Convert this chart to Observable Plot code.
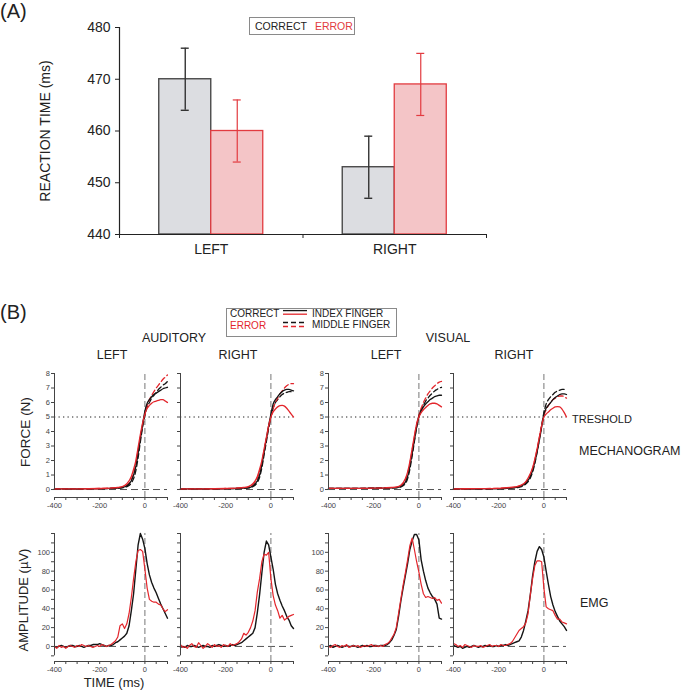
<!DOCTYPE html>
<html><head><meta charset="utf-8">
<script src="https://cdn.jsdelivr.net/npm/d3@7"></script>
<script src="https://cdn.jsdelivr.net/npm/@observablehq/plot@0.6"></script>
<style>
body{margin:0;background:#fff;font-family:"Liberation Sans",Arial,sans-serif;}
#root{position:relative;width:685px;height:690px;overflow:hidden;background:#fff;}
.t{position:absolute;white-space:nowrap;color:#222;line-height:1;}
.abs{position:absolute;}
.abs svg{overflow:visible;}
</style></head><body><div id="root"></div>
<script>
// ---------- Panel A data ----------
const rtSides = ["LEFT", "RIGHT"];
const rtConds = ["CORRECT", "ERROR"];
const rtCorrect = [470, 453];
const rtError = [460, 469];
const rtCorrectSE = [6, 6];
const rtErrorSE = [6, 6];
const rtTicks = [440, 450, 460, 470, 480];

// ---------- Panel B: mechanogram (force, N) ----------
const forceTime = [-400,-300,-200,-150,-120,-100,-80,-60,-50,-40,-30,-20,-10,0,10,20,30,40,50,60,70,80,90,100];
const audLeftCorrectIndex  = [0.05,0.05,0.06,0.08,0.1,0.15,0.25,0.6,1.0,1.6,2.5,3.5,4.5,5.4,5.95,6.2,6.4,6.55,6.65,6.75,6.85,6.95,7.0,7.05];
const audLeftCorrectMiddle = [0.05,0.05,0.06,0.07,0.09,0.12,0.2,0.45,0.75,1.3,2.2,3.3,4.3,5.1,5.7,6.0,6.3,6.5,6.7,6.9,7.05,7.2,7.3,7.45];
const audLeftErrorIndex    = [0.05,0.05,0.07,0.1,0.14,0.2,0.4,0.9,1.4,2.0,2.9,3.8,4.6,5.2,5.6,5.8,5.95,6.05,6.1,6.15,6.2,6.2,6.1,6.0];
const audLeftErrorMiddle   = [0.05,0.05,0.07,0.1,0.13,0.18,0.3,0.7,1.1,1.8,2.7,3.6,4.5,5.2,5.8,6.2,6.5,6.75,7.0,7.2,7.4,7.6,7.75,7.9];
const audRightCorrectIndex  = [0.05,0.05,0.06,0.07,0.09,0.12,0.25,0.6,1.0,1.7,2.6,3.5,4.4,5.2,5.9,6.2,6.4,6.6,6.75,6.85,6.9,6.9,6.85,6.8];
const audRightCorrectMiddle = [0.05,0.05,0.06,0.07,0.09,0.11,0.2,0.5,0.85,1.5,2.4,3.3,4.2,5.0,5.6,6.0,6.2,6.4,6.55,6.65,6.7,6.75,6.75,6.75];
const audRightErrorIndex    = [0.05,0.05,0.07,0.1,0.14,0.2,0.4,0.9,1.4,2.0,2.8,3.6,4.4,5.0,5.35,5.55,5.7,5.78,5.8,5.75,5.6,5.4,5.2,5.0];
const audRightErrorMiddle   = [0.05,0.05,0.07,0.09,0.12,0.17,0.33,0.8,1.25,1.85,2.7,3.5,4.3,5.0,5.6,6.0,6.3,6.6,6.8,7.0,7.15,7.25,7.3,7.3];
const visLeftCorrectIndex  = [0.08,0.08,0.09,0.1,0.11,0.13,0.2,0.5,0.9,1.6,2.5,3.4,4.3,5.0,5.4,5.7,5.9,6.05,6.2,6.3,6.4,6.45,6.5,6.5];
const visLeftCorrectMiddle = [0.08,0.08,0.09,0.1,0.11,0.12,0.18,0.4,0.75,1.4,2.3,3.3,4.3,5.1,5.5,5.8,6.1,6.3,6.5,6.65,6.8,6.9,7.0,7.05];
const visLeftErrorIndex    = [0.08,0.08,0.1,0.12,0.14,0.17,0.3,0.75,1.2,1.9,2.8,3.7,4.5,5.0,5.3,5.5,5.65,5.8,5.9,5.95,5.95,5.9,5.8,5.7];
const visLeftErrorMiddle   = [0.08,0.08,0.1,0.11,0.13,0.16,0.27,0.65,1.1,1.8,2.7,3.6,4.5,5.1,5.6,6.0,6.3,6.6,6.8,7.0,7.15,7.3,7.4,7.45];
const visRightCorrectIndex  = [0.05,0.05,0.06,0.1,0.15,0.25,0.45,0.9,1.3,1.9,2.6,3.4,4.3,5.2,5.6,5.8,6.0,6.2,6.35,6.45,6.55,6.6,6.6,6.55];
const visRightCorrectMiddle = [0.05,0.05,0.06,0.09,0.13,0.2,0.38,0.8,1.2,1.8,2.6,3.5,4.4,5.3,5.9,6.2,6.4,6.55,6.7,6.8,6.85,6.9,6.9,6.9];
const visRightErrorIndex    = [0.05,0.06,0.08,0.14,0.2,0.3,0.55,1.1,1.5,2.1,2.8,3.6,4.4,5.0,5.2,5.35,5.5,5.6,5.7,5.72,5.7,5.55,5.3,5.0];
const visRightErrorMiddle   = [0.05,0.06,0.08,0.13,0.18,0.27,0.5,1.0,1.45,2.05,2.8,3.6,4.4,5.1,5.5,5.8,6.0,6.2,6.3,6.4,6.45,6.45,6.4,6.3];
const forceTicksX = [-400,-350,-300,-250,-200,-150,-100,-50,0,50,100];
const forceTicksY = [0,1,2,3,4,5,6,7,8];
const forceThreshold = 5;

// ---------- Panel B: EMG (µV) ----------
const emgTime = [-400,-390,-380,-370,-360,-350,-340,-330,-320,-310,-300,-290,-280,-270,-260,-250,-240,-230,-220,-210,-200,-190,-180,-170,-160,-150,-140,-130,-120,-110,-100,-90,-80,-70,-60,-50,-40,-30,-20,-10,0,10,20,30,40,50,60,70,80,90,100];
const audLeftEmgCorrect  = [0,-1,0,1,0,-1,0,1,1,0,0,1,0,-1,0,1,1,2,2,2,3,2,1,0,1,1,2,4,5,7,9,11,14,22,38,56,82,108,120,114,104,88,76,68,62,57,51,45,40,35,30];
const audLeftEmgError    = [0,-2,1,-1,0,-2,0,1,0,-1,1,0,2,1,0,1,0,-1,0,1,0,2,1,0,1,2,4,6,10,22,24,19,24,35,52,72,90,102,103,101,82,62,50,48,47,47,45,44,40,37,39];
const audRightEmgCorrect = [-1,0,-1,1,0,0,1,0,-1,0,1,0,0,-1,1,0,1,2,1,0,1,0,1,2,1,2,3,4,6,8,10,12,14,20,36,55,78,100,112,108,95,82,66,56,49,43,38,32,28,22,19];
const audRightEmgError   = [2,-1,0,-2,1,3,0,-1,4,1,-2,0,3,1,-1,2,0,1,-1,2,1,0,3,1,2,3,5,8,14,12,15,20,27,38,58,72,90,98,97,100,72,54,44,38,30,33,28,30,32,33,34];
const visLeftEmgCorrect  = [0,1,-1,0,1,0,-1,0,1,0,0,1,0,-1,0,1,0,1,0,0,1,1,0,1,1,1,2,4,7,12,18,32,48,62,75,88,103,112,119,119,113,92,80,70,62,57,53,50,45,30,29];
const visLeftEmgError    = [0,-1,1,2,0,-1,1,0,2,-1,0,1,0,1,-1,0,1,0,1,2,0,1,0,1,0,2,3,5,9,13,20,35,50,65,78,92,107,115,103,90,79,66,56,52,53,52,51,52,49,50,46];
const visRightEmgCorrect = [1,0,-1,0,-2,-1,0,-1,0,1,0,-1,0,0,1,0,1,0,0,1,0,1,1,2,1,2,3,4,5,6,10,17,27,38,55,75,90,101,106,103,95,80,66,53,44,37,32,27,24,21,17];
const visRightEmgError   = [3,2,0,1,-1,2,1,0,-1,1,0,0,1,-1,0,1,2,0,1,1,0,2,1,1,2,3,5,9,13,17,19,21,25,35,55,72,86,91,91,90,62,42,40,39,38,33,29,29,26,25,24];
const emgTicksY = [-10,0,10,20,30,40,50,60,70,80,90,100,110,120];
const emgLabelsY = [0,20,40,60,80,100];
const labelledX = [-400,-200,0];

// ---------- helpers ----------
const FONT = '"Liberation Sans", Arial, sans-serif';
const BLACK = "#151515", RED = "#e3262c";
const root = document.getElementById("root");

function place(el, left, top) {
  const d = document.createElement("div");
  d.className = "abs";
  d.style.left = left + "px";
  d.style.top = top + "px";
  d.appendChild(el);
  root.appendChild(d);
  return d;
}
function text(s, x, y, {size = 12, color = "#222", anchor = "middle"} = {}) {
  const d = document.createElement("div");
  d.className = "t";
  d.textContent = s;
  d.style.fontSize = size + "px";
  d.style.color = color;
  d.style.left = x + "px";
  d.style.top = y + "px";
  const tx = anchor === "middle" ? "-50%" : anchor === "end" ? "-100%" : "0";
  d.style.transform = `translate(${tx},-50%)`;
  root.appendChild(d);
  return d;
}
function rotText(s, cx, cy, size) {
  const d = document.createElement("div");
  d.className = "t";
  d.textContent = s;
  d.style.fontSize = size + "px";
  d.style.left = cx + "px";
  d.style.top = cy + "px";
  d.style.transform = "translate(-50%,-50%) rotate(-90deg)";
  root.appendChild(d);
}

// ---------- Panel A ----------
const rtData = rtSides.flatMap((s, i) => [
  {side: s, idx: i, cond: rtConds[0], v: rtCorrect[i], se: rtCorrectSE[i]},
  {side: s, idx: i, cond: rtConds[1], v: rtError[i], se: rtErrorSE[i]}
]);
const barW = 0.2834;
const bx1 = d => d.idx + 0.5 - (d.cond === "CORRECT" ? barW : 0);
const bx2 = d => bx1(d) + barW;
const bxc = d => bx1(d) + barW / 2;
const corr = rtData.filter(d => d.cond === "CORRECT");
const err = rtData.filter(d => d.cond === "ERROR");
const yMin = rtTicks[0], yMax = rtTicks[rtTicks.length - 1];

const plotA = Plot.plot({
  width: 500, height: 262,
  marginLeft: 119, marginRight: 14, marginTop: 27, marginBottom: 28,
  style: {fontFamily: FONT, fontSize: "14px", color: "#222", background: "transparent", overflow: "visible"},
  x: {domain: [0, rtSides.length]},
  y: {domain: [yMin, yMax]},
  marks: [
    Plot.rectY(corr, {x1: bx1, x2: bx2, y1: yMin, y2: "v", fill: "#dcdde1", stroke: "#4a4a4a", strokeWidth: 1.4}),
    Plot.rectY(err, {x1: bx1, x2: bx2, y1: yMin, y2: "v", fill: "#f4c5c7", stroke: "#e23b40", strokeWidth: 1.3}),
    Plot.ruleX(corr, {x: bxc, y1: d => d.v - d.se, y2: d => d.v + d.se, stroke: "#333", strokeWidth: 1.4}),
    Plot.ruleX(err, {x: bxc, y1: d => d.v - d.se, y2: d => d.v + d.se, stroke: "#e23b40", strokeWidth: 1.2}),
    Plot.ruleY(corr, {x1: bxc, x2: bxc, y: d => d.v - d.se, insetLeft: -4, insetRight: -4, stroke: "#333", strokeWidth: 1.4}),
    Plot.ruleY(corr, {x1: bxc, x2: bxc, y: d => d.v + d.se, insetLeft: -4, insetRight: -4, stroke: "#333", strokeWidth: 1.4}),
    Plot.ruleY(err, {x1: bxc, x2: bxc, y: d => d.v - d.se, insetLeft: -4, insetRight: -4, stroke: "#e23b40", strokeWidth: 1.2}),
    Plot.ruleY(err, {x1: bxc, x2: bxc, y: d => d.v + d.se, insetLeft: -4, insetRight: -4, stroke: "#e23b40", strokeWidth: 1.2}),
    Plot.ruleY([yMin], {stroke: "#222", strokeWidth: 1.2}),
    Plot.ruleX([0], {y1: yMin, y2: yMax, stroke: "#222", strokeWidth: 1.2}),
    Plot.axisY({ticks: rtTicks, tickSize: 4, tickPadding: 5, label: null, tickFormat: d => String(d)}),
    Plot.axisX({ticks: d3.range(0, rtSides.length + 1), tickSize: 4, tickFormat: () => "", label: null}),
    Plot.axisX({ticks: rtSides.map((s, i) => i + 0.5), tickSize: 0, tickPadding: 10, tickFormat: d => rtSides[Math.floor(d)], label: null})
  ]
});
place(plotA, 0, 0);
text("(A)", 0, 11, {size: 20, anchor: "start"});
rotText("REACTION TIME (ms)", 45, 131, 14);

// legend A
{
  const lg = document.createElement("div");
  lg.style.cssText = "position:absolute;left:249px;top:17px;width:106px;height:18px;border:1px solid #8a8a8a;font-size:10.5px;line-height:16px;box-sizing:border-box;padding-left:5px;white-space:nowrap;color:#222";
  lg.innerHTML = '<span>CORRECT</span><span style="color:#e23b40;margin-left:8px">ERROR</span>';
  root.appendChild(lg);
}

// ---------- Panel B ----------
const panelX = [54, 180, 328, 453];   // left edges of the four plot frames
const PW = 113;
const forceSets = [
  [audLeftCorrectIndex, audLeftCorrectMiddle, audLeftErrorIndex, audLeftErrorMiddle],
  [audRightCorrectIndex, audRightCorrectMiddle, audRightErrorIndex, audRightErrorMiddle],
  [visLeftCorrectIndex, visLeftCorrectMiddle, visLeftErrorIndex, visLeftErrorMiddle],
  [visRightCorrectIndex, visRightCorrectMiddle, visRightErrorIndex, visRightErrorMiddle]
];
const emgSets = [
  [audLeftEmgCorrect, audLeftEmgError],
  [audRightEmgCorrect, audRightEmgError],
  [visLeftEmgCorrect, visLeftEmgError],
  [visRightEmgCorrect, visRightEmgError]
];
const series = (time, vals) => time.map((t, i) => ({t, v: vals[i]}));
const smallStyle = {fontFamily: FONT, fontSize: "7.5px", color: "#444", background: "transparent", overflow: "visible"};
const xFmt = d => labelledX.includes(d) ? String(d) : "";

function forcePanel(sets, showY) {
  const [ci, cm, ei, em] = sets.map(a => series(forceTime, a));
  return Plot.plot({
    width: 22 + PW + 6, height: 6 + 124 + 20,
    marginLeft: 22, marginRight: 6, marginTop: 6, marginBottom: 20,
    style: smallStyle,
    x: {domain: [forceTime[0], forceTime[forceTime.length - 1]]},
    y: {domain: [-0.55, forceTicksY[forceTicksY.length - 1]]},
    marks: [
      Plot.ruleY([0], {stroke: "#555", strokeDasharray: "7,4", strokeWidth: 1}),
      Plot.ruleY([forceThreshold], {stroke: "#222", strokeDasharray: "1.3,3.2", strokeWidth: 1.2}),
      Plot.ruleX([0], {y1: -0.55, y2: 8, stroke: "#777", strokeDasharray: "6,3", strokeWidth: 1}),
      Plot.line(cm, {x: "t", y: "v", stroke: BLACK, strokeWidth: 1.3, strokeDasharray: "5,3", curve: "monotone-x"}),
      Plot.line(em, {x: "t", y: "v", stroke: RED, strokeWidth: 1.3, strokeDasharray: "5,3", curve: "monotone-x"}),
      Plot.line(ci, {x: "t", y: "v", stroke: BLACK, strokeWidth: 1.3, curve: "monotone-x"}),
      Plot.line(ei, {x: "t", y: "v", stroke: RED, strokeWidth: 1.3, curve: "monotone-x"}),
      Plot.frame({anchor: "bottom", stroke: "#444"}),
      Plot.ruleX([forceTime[0]], {y1: 0, y2: 8, stroke: "#444"}),
      Plot.axisX({ticks: forceTicksX, tickSize: 3, tickPadding: 2, tickFormat: xFmt, label: null}),
      Plot.axisY({ticks: forceTicksY, tickSize: 3, tickPadding: 1.5, tickFormat: showY ? (d => String(d)) : (() => ""), label: null})
    ]
  });
}
function emgPanel(sets, showY) {
  const [c, e] = sets.map(a => series(emgTime, a));
  return Plot.plot({
    width: 22 + PW + 6, height: 6 + 128 + 20,
    marginLeft: 22, marginRight: 6, marginTop: 6, marginBottom: 20,
    style: smallStyle,
    x: {domain: [emgTime[0], emgTime[emgTime.length - 1]]},
    y: {domain: [-16, emgTicksY[emgTicksY.length - 1]]},
    marks: [
      Plot.ruleY([0], {stroke: "#555", strokeDasharray: "7,4", strokeWidth: 1}),
      Plot.ruleX([0], {y1: -16, y2: 120, stroke: "#777", strokeDasharray: "6,3", strokeWidth: 1}),
      Plot.line(c, {x: "t", y: "v", stroke: BLACK, strokeWidth: 1.4}),
      Plot.line(e, {x: "t", y: "v", stroke: RED, strokeWidth: 1.2}),
      Plot.frame({anchor: "bottom", stroke: "#444"}),
      Plot.ruleX([emgTime[0]], {y1: emgTicksY[0], y2: 120, stroke: "#444"}),
      Plot.axisX({ticks: forceTicksX, tickSize: 3, tickPadding: 2, tickFormat: xFmt, label: null}),
      Plot.axisY({ticks: emgTicksY, tickSize: 3, tickPadding: 1.5, tickFormat: d => (showY && emgLabelsY.includes(d)) ? String(d) : "", label: null})
    ]
  });
}
panelX.forEach((px, i) => {
  place(forcePanel(forceSets[i], i === 0 || i === 2), px - 22, 373 - 6);
  place(emgPanel(emgSets[i], i === 0 || i === 2), px - 22, 533 - 6);
});

// Panel B texts
text("(B)", 0, 312, {size: 20, anchor: "start"});
text("AUDITORY", 174, 338, {size: 12.5});
text("VISUAL", 448, 338, {size: 12.5});
text("LEFT", 112, 355, {size: 12.5});
text("RIGHT", 238, 355, {size: 12.5});
text("LEFT", 386, 355, {size: 12.5});
text("RIGHT", 514, 355, {size: 12.5});
rotText("FORCE (N)", 26, 432, 13.5);
rotText("AMPLITUDE (\u00b5V)", 23, 600, 13);
text("TIME (ms)", 114, 682, {size: 13});
text("TRESHOLD", 572, 419, {size: 11, anchor: "start"});
text("MECHANOGRAM", 579, 451, {size: 12.5, anchor: "start"});
text("EMG", 580, 603, {size: 12.5, anchor: "start"});

// legend B
{
  const lg = document.createElement("div");
  lg.style.cssText = "position:absolute;left:226px;top:308px;width:171px;height:29px;border:1px solid #8a8a8a;box-sizing:border-box;font-size:10px;";
  lg.innerHTML =
    '<div class="t" style="left:3px;top:5px;transform:translateY(-50%);font-size:10px">CORRECT</div>' +
    '<div class="t" style="left:3px;top:16.5px;transform:translateY(-50%);font-size:10px;color:' + RED + '">ERROR</div>' +
    '<svg width="26" height="27" style="position:absolute;left:56px;top:0">' +
    '<line x1="0" x2="24" y1="1.6" y2="1.6" stroke="' + BLACK + '" stroke-width="1.3"/>' +
    '<line x1="0" x2="24" y1="5.2" y2="5.2" stroke="' + RED + '" stroke-width="1.3"/>' +
    '<line x1="0" x2="24" y1="13.5" y2="13.5" stroke="' + BLACK + '" stroke-width="1.3" stroke-dasharray="5,3"/>' +
    '<line x1="0" x2="24" y1="17.5" y2="17.5" stroke="' + RED + '" stroke-width="1.3" stroke-dasharray="5,3"/>' +
    '</svg>' +
    '<div class="t" style="left:85px;top:4.5px;transform:translateY(-50%);font-size:10px">INDEX FINGER</div>' +
    '<div class="t" style="left:85px;top:16px;transform:translateY(-50%);font-size:10px">MIDDLE FINGER</div>';
  root.appendChild(lg);
}
</script>
</body></html>
